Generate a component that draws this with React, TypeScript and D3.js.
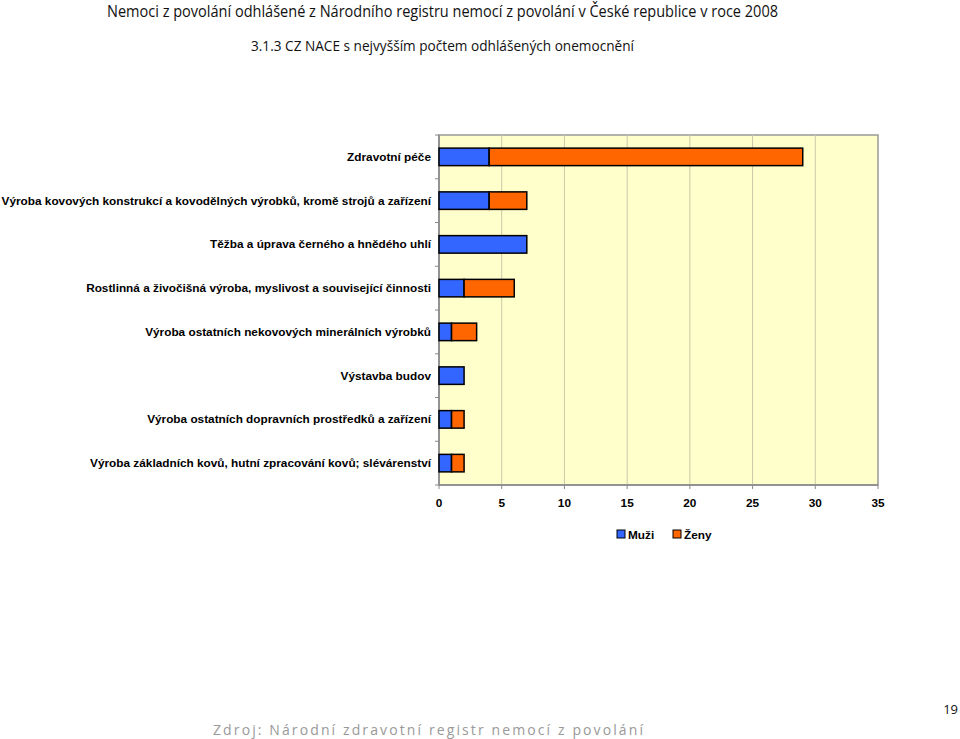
import React from "react";
import * as d3 from "d3";

const categories = [
  "Zdravotní péče",
  "Výroba kovových konstrukcí a kovodělných výrobků, kromě strojů a zařízení",
  "Těžba a úprava černého a hnědého uhlí",
  "Rostlinná a živočišná výroba, myslivost a související činnosti",
  "Výroba ostatních nekovových minerálních výrobků",
  "Výstavba budov",
  "Výroba ostatních dopravních prostředků a zařízení",
  "Výroba základních kovů, hutní zpracování kovů; slévárenství",
];
const muzi = [4, 4, 7, 2, 1, 2, 1, 1];
const zeny = [25, 3, 0, 4, 2, 0, 1, 1];
const seriesNames = ["Muži", "Ženy"];
const seriesColors = ["#3366FF", "#FF6600"];
const xTicks = [0, 5, 10, 15, 20, 25, 30, 35];

export default function App() {
  const W = 960, H = 739;
  const left = 439, right = 878, top = 135, bottom = 485;
  const x = d3.scaleLinear().domain([0, 35]).range([left, right]);
  const y = d3.scaleBand().domain(categories).range([top, bottom]).paddingInner(0.6).paddingOuter(0.3);
  const yb = d3.scaleBand().domain(categories).range([top, bottom]);
  const data = categories.map((c, i) => ({ cat: c, Muži: muzi[i], Ženy: zeny[i] }));
  const stack = d3.stack<any>().keys(seriesNames)(data);
  const font = "Arial, 'Liberation Sans', sans-serif";
  const titleFont = "'Open Sans', sans-serif";
  return (
    <svg width={W} height={H} style={{ position: "absolute", left: 0, top: 0, background: "#fff" }}>
      <text x={107} y={17} textLength={671} lengthAdjust="spacingAndGlyphs" fontFamily={titleFont} fontSize={16} fill="#111">
        Nemoci z povolání odhlášené z Národního registru nemocí z povolání v České republice v roce 2008
      </text>
      <text x={251} y={51} textLength={383} lengthAdjust="spacingAndGlyphs" fontFamily={titleFont} fontSize={15} fill="#111">
        3.1.3 CZ NACE s nejvyšším počtem odhlášených onemocnění
      </text>
      <rect x={left} y={top} width={right - left} height={bottom - top} fill="#FFFFCC" stroke="#999" strokeWidth={1.5} />
      {xTicks.slice(1, -1).map((t) => (
        <line key={t} x1={x(t)} x2={x(t)} y1={top} y2={bottom} stroke="#C8C8A8" strokeWidth={1} />
      ))}
      <line x1={left} x2={left} y1={top} y2={bottom} stroke="#888" strokeWidth={1.5} />
      <line x1={left} x2={right} y1={bottom} y2={bottom} stroke="#888" strokeWidth={1.5} />
      {categories.map((c, i) => (
        <line key={"t" + i} x1={left - 4} x2={left} y1={yb(c)!} y2={yb(c)!} stroke="#888" />
      ))}
      <line x1={left - 4} x2={left} y1={bottom} y2={bottom} stroke="#888" />
      {xTicks.map((t) => (
        <line key={"xt" + t} x1={x(t)} x2={x(t)} y1={bottom} y2={bottom + 4} stroke="#888" />
      ))}
      {stack.map((s, si) =>
        s.map((d, i) =>
          d[1] - d[0] > 0 ? (
            <rect
              key={si + "-" + i}
              x={x(d[0])}
              y={y(categories[i])!}
              width={x(d[1]) - x(d[0])}
              height={y.bandwidth()}
              fill={seriesColors[si]}
              stroke="#000"
              strokeWidth={1.5}
            />
          ) : null
        )
      )}
      {categories.map((c) => (
        <text key={c} x={431} y={y(c)! + y.bandwidth() / 2 + 4} textAnchor="end" fontFamily={font} fontSize={11.8} fontWeight="bold" fill="#000">
          {c}
        </text>
      ))}
      {xTicks.map((t) => (
        <text key={"xl" + t} x={x(t)} y={507} textAnchor="middle" fontFamily={font} fontSize={11.8} fontWeight="bold" fill="#000">
          {t}
        </text>
      ))}
      <g>
        <rect x={617} y={530} width={8} height={8} fill={seriesColors[0]} stroke="#000" />
        <text x={628} y={539} fontFamily={font} fontSize={11.8} fontWeight="bold">{seriesNames[0]}</text>
        <rect x={673} y={530} width={8} height={8} fill={seriesColors[1]} stroke="#000" />
        <text x={684} y={539} fontFamily={font} fontSize={11.8} fontWeight="bold">{seriesNames[1]}</text>
      </g>
      <text x={213} y={735} textLength={430} lengthAdjust="spacing" fontFamily={titleFont} fontSize={14} fill="#999">
        Zdroj: Národní zdravotní registr nemocí z povolání
      </text>
      <text x={958} y={714} textAnchor="end" fontFamily={titleFont} fontSize={13} fill="#111">19</text>
    </svg>
  );
}
